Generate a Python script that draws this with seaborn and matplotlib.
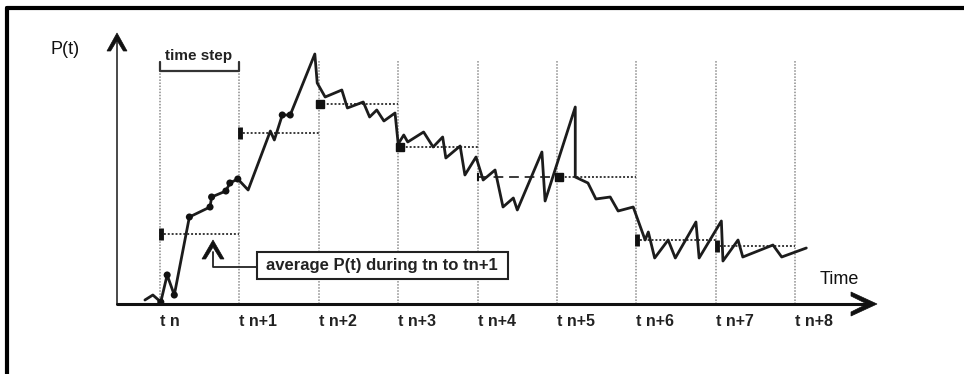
import matplotlib
matplotlib.use("Agg")
import matplotlib.pyplot as plt
from matplotlib.patches import Polygon, Rectangle
from matplotlib.lines import Line2D
import numpy as np
import pandas as pd
import seaborn as sns

# ---- data -------------------------------------------------------------
step_labels = ["t n", "t n+1", "t n+2", "t n+3", "t n+4",
               "t n+5", "t n+6", "t n+7", "t n+8"]
time_steps = [0, 1, 2, 3, 4, 5, 6, 7, 8]

# P(t) trace (time in steps after tn, power in arbitrary units)
curve_t = [-0.19, -0.09, 0.01, 0.09, 0.18, 0.37, 0.63, 0.65, 0.83, 0.88,
           0.98, 1.11, 1.39, 1.44, 1.54, 1.64, 1.95, 1.98, 2.08, 2.29,
           2.36, 2.56, 2.64, 2.73, 2.82, 2.96, 3.00, 3.07, 3.12, 3.32,
           3.44, 3.56, 3.60, 3.78, 3.84, 3.98, 4.07, 4.22, 4.32, 4.45,
           4.50, 4.81, 4.85, 5.23, 5.23, 5.39, 5.49, 5.67, 5.77, 5.96,
           6.11, 6.15, 6.23, 6.40, 6.49, 6.75, 6.79, 7.07, 7.09, 7.28,
           7.34, 7.72, 7.83, 8.14]
curve_p = [4, 9, 2, 29, 9, 87, 97, 107, 113, 121,
           125, 114, 173, 164, 189, 189, 250, 221, 207, 214,
           196, 202, 187, 194, 183, 191, 160, 169, 162, 172,
           157, 167, 146, 158, 129, 147, 124, 134, 97, 106,
           94, 152, 103, 197, 127, 121, 105, 107, 93, 97,
           64, 72, 46, 64, 46, 82, 46, 83, 43, 64,
           47, 59, 47, 56]

# sampled points inside the first time step
sample_t = [0.01, 0.09, 0.18, 0.37, 0.63, 0.65, 0.83, 0.88, 0.98, 1.54, 1.64]
sample_p = [2, 29, 9, 87, 97, 107, 113, 121, 125, 189, 189]

# average P(t) over each time step
avg_p = [70, 171, 200, 157, 127, 127, 64, 58]

# ---- layout -----------------------------------------------------------
sns.set_theme(style="white")
plt.rcParams["font.family"] = ["Liberation Sans", "DejaVu Sans"]

W, H = 964, 374
STEP = 79.4      # pixels per time step
X0 = 160         # pixel column of tn
BASE = 304       # pixel row of the time axis

fig = plt.figure(figsize=(W / 100, H / 100), dpi=100)
fig.patch.set_facecolor("white")
ax = fig.add_axes([0, 0, 1, 1])
ax.set_xlim(-X0 / STEP, (W - X0) / STEP)
ax.set_ylim(BASE - H, BASE)
ax.axis("off")


def at(xp, yp):
    """Pixel position on the canvas -> data coordinates."""
    return (xp - X0) / STEP, BASE - yp


def chevron(tip, direction, length, half, thick, color="#111"):
    tip = np.asarray(tip, float)
    d = np.asarray(direction, float)
    d /= np.hypot(*d)
    n = np.array([-d[1], d[0]])
    base = tip - d * length
    notch = length * thick / half * 1.15
    pts = [tip,
           base + n * half,
           base + n * (half - thick),
           tip - d * notch,
           base - n * (half - thick),
           base - n * half]
    ax.add_patch(Polygon([at(*p) for p in pts], closed=True,
                         facecolor=color, edgecolor=color, lw=0.5, zorder=6))


# vertical step lines
for k in time_steps:
    ax.plot([k, k], [0, 244], color="#8c8c8c", lw=1.1,
            ls=(0, (1, 1)), zorder=1)

# step averages
for k, p in enumerate(avg_p):
    ls = (0, (5, 3)) if k == 4 else (0, (1, 1))
    ax.plot([k, k + 1], [p, p], color="#3a3a3a", lw=1.4, ls=ls, zorder=2)
    if k in (2, 3, 5):
        ax.plot([k + 0.02], [p], marker="s", ms=6, color="#111", zorder=5)
    elif k == 4:
        ax.plot([k], [p], marker="|", ms=6, mew=1.5, color="#111", zorder=5)
    else:
        ax.plot([k + 0.01], [p], marker="|", ms=9, mew=3.5, color="#111",
                zorder=5)

# P(t) trace
df = pd.DataFrame({"t": curve_t, "P": curve_p})
sns.lineplot(data=df, x="t", y="P", sort=False, estimator=None,
             color="#1c1c1c", lw=2.0, ax=ax, zorder=4)
sns.scatterplot(x=sample_t, y=sample_p, s=26, color="#111",
                edgecolor="none", ax=ax, zorder=5)

# axes with arrowheads
ax.plot(*zip(at(117, 304), at(117, 38)), color="#3a3a3a", lw=1.3, zorder=3)
ax.plot(*zip(at(117, 304), at(870, 304)), color="#111", lw=2.2, zorder=3)
chevron((117, 33), (0, -1), 18, 10, 3.6)
chevron((877, 304), (1, 0), 26, 12, 4.0)

ax.text(*at(65, 50), "P(t)", fontsize=13, color="#111",
        ha="center", va="center")
ax.text(*at(839, 279), "Time", fontsize=13, color="#111",
        ha="center", va="center")

for k, lab in zip(time_steps, step_labels):
    ax.text(k, BASE - 322, lab, fontsize=11.5, fontweight="bold",
            color="#222", ha="left", va="center")

# time step bracket
ax.plot(*zip(at(160, 62), at(160, 71), at(239, 71), at(239, 62)),
        color="#333", lw=1.6, zorder=3)
ax.text(*at(199, 56), "time step", fontsize=11, fontweight="bold",
        color="#222", ha="center", va="center")

# callout for the step average
chevron((213, 240), (0, -1), 19, 11, 3.6)
ax.plot(*zip(at(213, 252), at(213, 267), at(257, 267)),
        color="#222", lw=1.3, zorder=3)
bx, by = at(257, 279)
ax.add_patch(Rectangle((bx, by), (508 - 257) / STEP, 27,
                       facecolor="white", edgecolor="#222", lw=1.5, zorder=6))
ax.text(*at(382, 265.5), "average P(t) during tn to tn+1", fontsize=12,
        fontweight="bold", color="#222", ha="center", va="center", zorder=7)

# outer frame
fig.add_artist(Line2D([7 / W, 1], [1 - 8 / H] * 2, transform=fig.transFigure,
                      color="black", lw=3))
fig.add_artist(Line2D([7 / W] * 2, [0, 1 - 8 / H], transform=fig.transFigure,
                      color="black", lw=3))

fig.savefig("out.png", dpi=100)
